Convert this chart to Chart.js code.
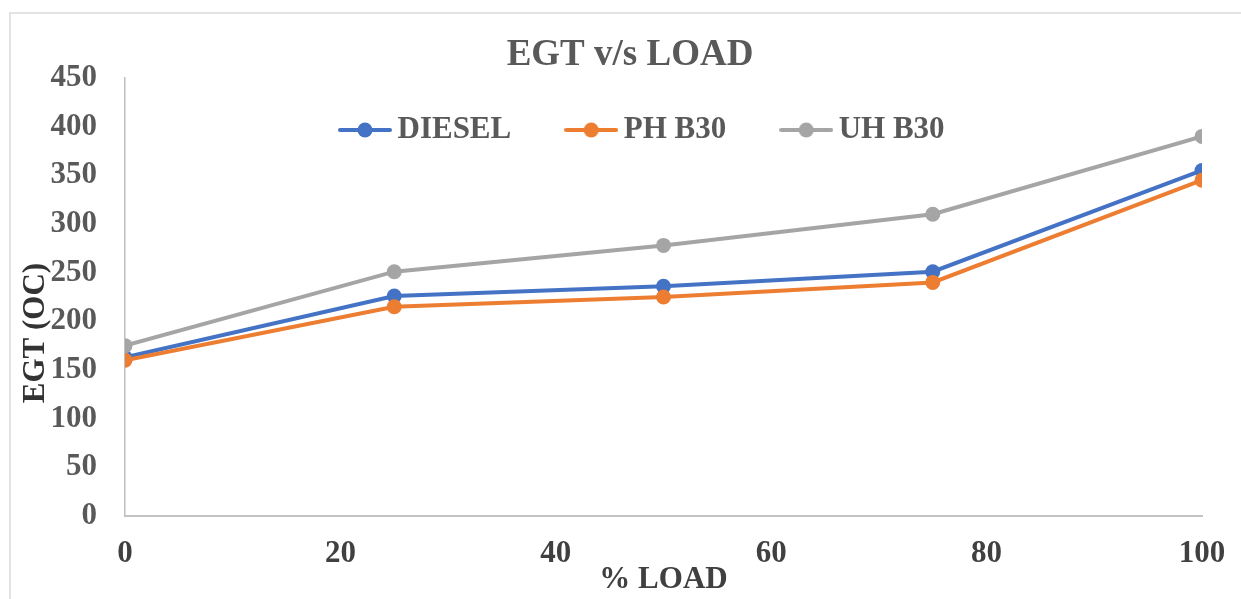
<!DOCTYPE html>
<html>
<head>
<meta charset="utf-8">
<script src="https://cdn.jsdelivr.net/npm/chart.js@4/dist/chart.umd.min.js"></script>
<style>
  html, body { margin: 0; padding: 0; background: #fff; }
  #wrap { position: relative; width: 1241px; height: 599px; overflow: hidden; }
  #frame { position: absolute; left: 9px; top: 12px; width: 1300px; height: 700px;
           border-top: 2px solid #e3e3e3; border-left: 2px solid #e3e3e3; }
  canvas { position: absolute; left: 0; top: 0; }
</style>
</head>
<body>
<div id="wrap">
  <div id="frame"></div>
  <canvas id="egtChart" width="1241" height="599"></canvas>
</div>
<script>
// valeurs
const load = [0, 25, 50, 75, 100];
const diesel = [163, 226, 236, 251, 355];
const phB30 = [160, 215, 225, 240, 345];
const uhB30 = [175, 251, 278, 310, 390];
const seriesNames = ["DIESEL", "PH B30", "UH B30"];
const seriesColors = ["#4472C4", "#ED7D31", "#A5A5A5"];
const chartTitle = "EGT v/s LOAD";
const xTitle = "% LOAD";
const yTitle = "EGT (OC)";

const serif = "'Liberation Serif', 'Times New Roman', serif";
const legendPad = 63;

// petit symbole ligne + point pour la légende
function legendMark(color) {
  const c = document.createElement("canvas");
  c.width = 54;
  c.height = 16;
  const g = c.getContext("2d");
  g.strokeStyle = color;
  g.lineWidth = 4;
  g.lineCap = "round";
  g.beginPath();
  g.moveTo(2, 8);
  g.lineTo(52, 8);
  g.stroke();
  g.fillStyle = color;
  g.beginPath();
  g.arc(27, 8, 7.5, 0, Math.PI * 2);
  g.fill();
  return c;
}
const marks = seriesColors.map(legendMark);

function toPoints(values) {
  return values.map((v, i) => ({ x: load[i], y: v }));
}

const yTitlePlugin = {
  id: "yTitle",
  afterDraw(chart) {
    const ctx = chart.ctx;
    ctx.save();
    ctx.translate(36, 333);
    ctx.rotate(-Math.PI / 2);
    ctx.font = "bold 31px " + serif;
    ctx.fillStyle = "#333333";
    ctx.textAlign = "center";
    ctx.textBaseline = "middle";
    ctx.fillText(yTitle, 0, 0);
    ctx.restore();
  },
};

// légende et titre placés comme dans Excel (légende dans la zone du tracé)
const placeBlocks = {
  id: "placeBlocks",
  afterLayout(chart) {
    const lg = chart.legend;
    const lw = lg.lineWidths ? lg.lineWidths[0] : 0;
    const startX = (lg.left + legendPad + lg.right - lw) / 2;
    const dx = 348 - startX;
    lg.left += dx;
    lg.right += dx;
    lg.top = 51.5;
    lg.bottom = lg.top + 160;
    lg.height = 160;
    const tb = chart.titleBlock;
    const tc = (tb.left + tb.right) / 2;
    tb.left += 630 - tc;
    tb.right += 630 - tc;
  },
};

const ctx = document.getElementById("egtChart").getContext("2d");
const egtChart = new Chart(ctx, {
  type: "line",
  data: {
    datasets: [diesel, phB30, uhB30].map((vals, i) => ({
      label: seriesNames[i],
      data: toPoints(vals),
      borderColor: seriesColors[i],
      backgroundColor: seriesColors[i],
      pointBackgroundColor: seriesColors[i],
      borderWidth: 4,
      pointRadius: 7.5,
      pointBorderWidth: 0,
      pointHoverRadius: 7.5,
      tension: 0,
      order: 3 - i,
    })),
  },
  options: {
    responsive: false,
    animation: false,
    layout: { padding: { left: 0, right: 39, top: 0, bottom: 0 } },
    plugins: {
      title: {
        display: true,
        text: chartTitle,
        color: "#595959",
        font: { family: serif, size: 37, weight: "bold", lineHeight: 1 },
        padding: { top: 37, bottom: 3 },
      },
      legend: {
        position: "top",
        align: "center",
        maxHeight: 1,
        labels: {
          usePointStyle: true,
          pointStyleWidth: 34,
          padding: legendPad,
          color: "#595959",
          font: { family: serif, size: 31, weight: "bold" },
          sort: (a, b) => a.datasetIndex - b.datasetIndex,
          generateLabels(chart) {
            const items = Chart.defaults.plugins.legend.labels.generateLabels(chart);
            items.forEach((it) => { it.pointStyle = marks[it.datasetIndex]; });
            return items;
          },
        },
      },
      tooltip: { enabled: false },
    },
    scales: {
      x: {
        type: "linear",
        min: 0,
        max: 100,
        ticks: {
          stepSize: 20,
          padding: 19,
          color: "#404040",
          font: { family: serif, size: 31, weight: "bold" },
        },
        grid: { display: false, drawTicks: false },
        border: { display: true, color: "#c4c4c4", width: 2 },
        title: {
          display: true,
          text: xTitle,
          color: "#404040",
          font: { family: serif, size: 31, weight: "bold" },
          padding: 0,
        },
        afterFit(scale) {
          scale.height = 83;
          scale.paddingLeft = 0;
          scale.paddingRight = 0;
        },
      },
      y: {
        min: 0,
        max: 450,
        ticks: {
          stepSize: 50,
          padding: 28,
          color: "#595959",
          font: { family: serif, size: 31, weight: "bold" },
        },
        grid: { display: false, drawTicks: false },
        border: { display: true, color: "#bfbfbf", width: 1.5 },
        afterFit(scale) { scale.width = 125; },
      },
    },
  },
  plugins: [yTitlePlugin, placeBlocks],
});
</script>
</body>
</html>
